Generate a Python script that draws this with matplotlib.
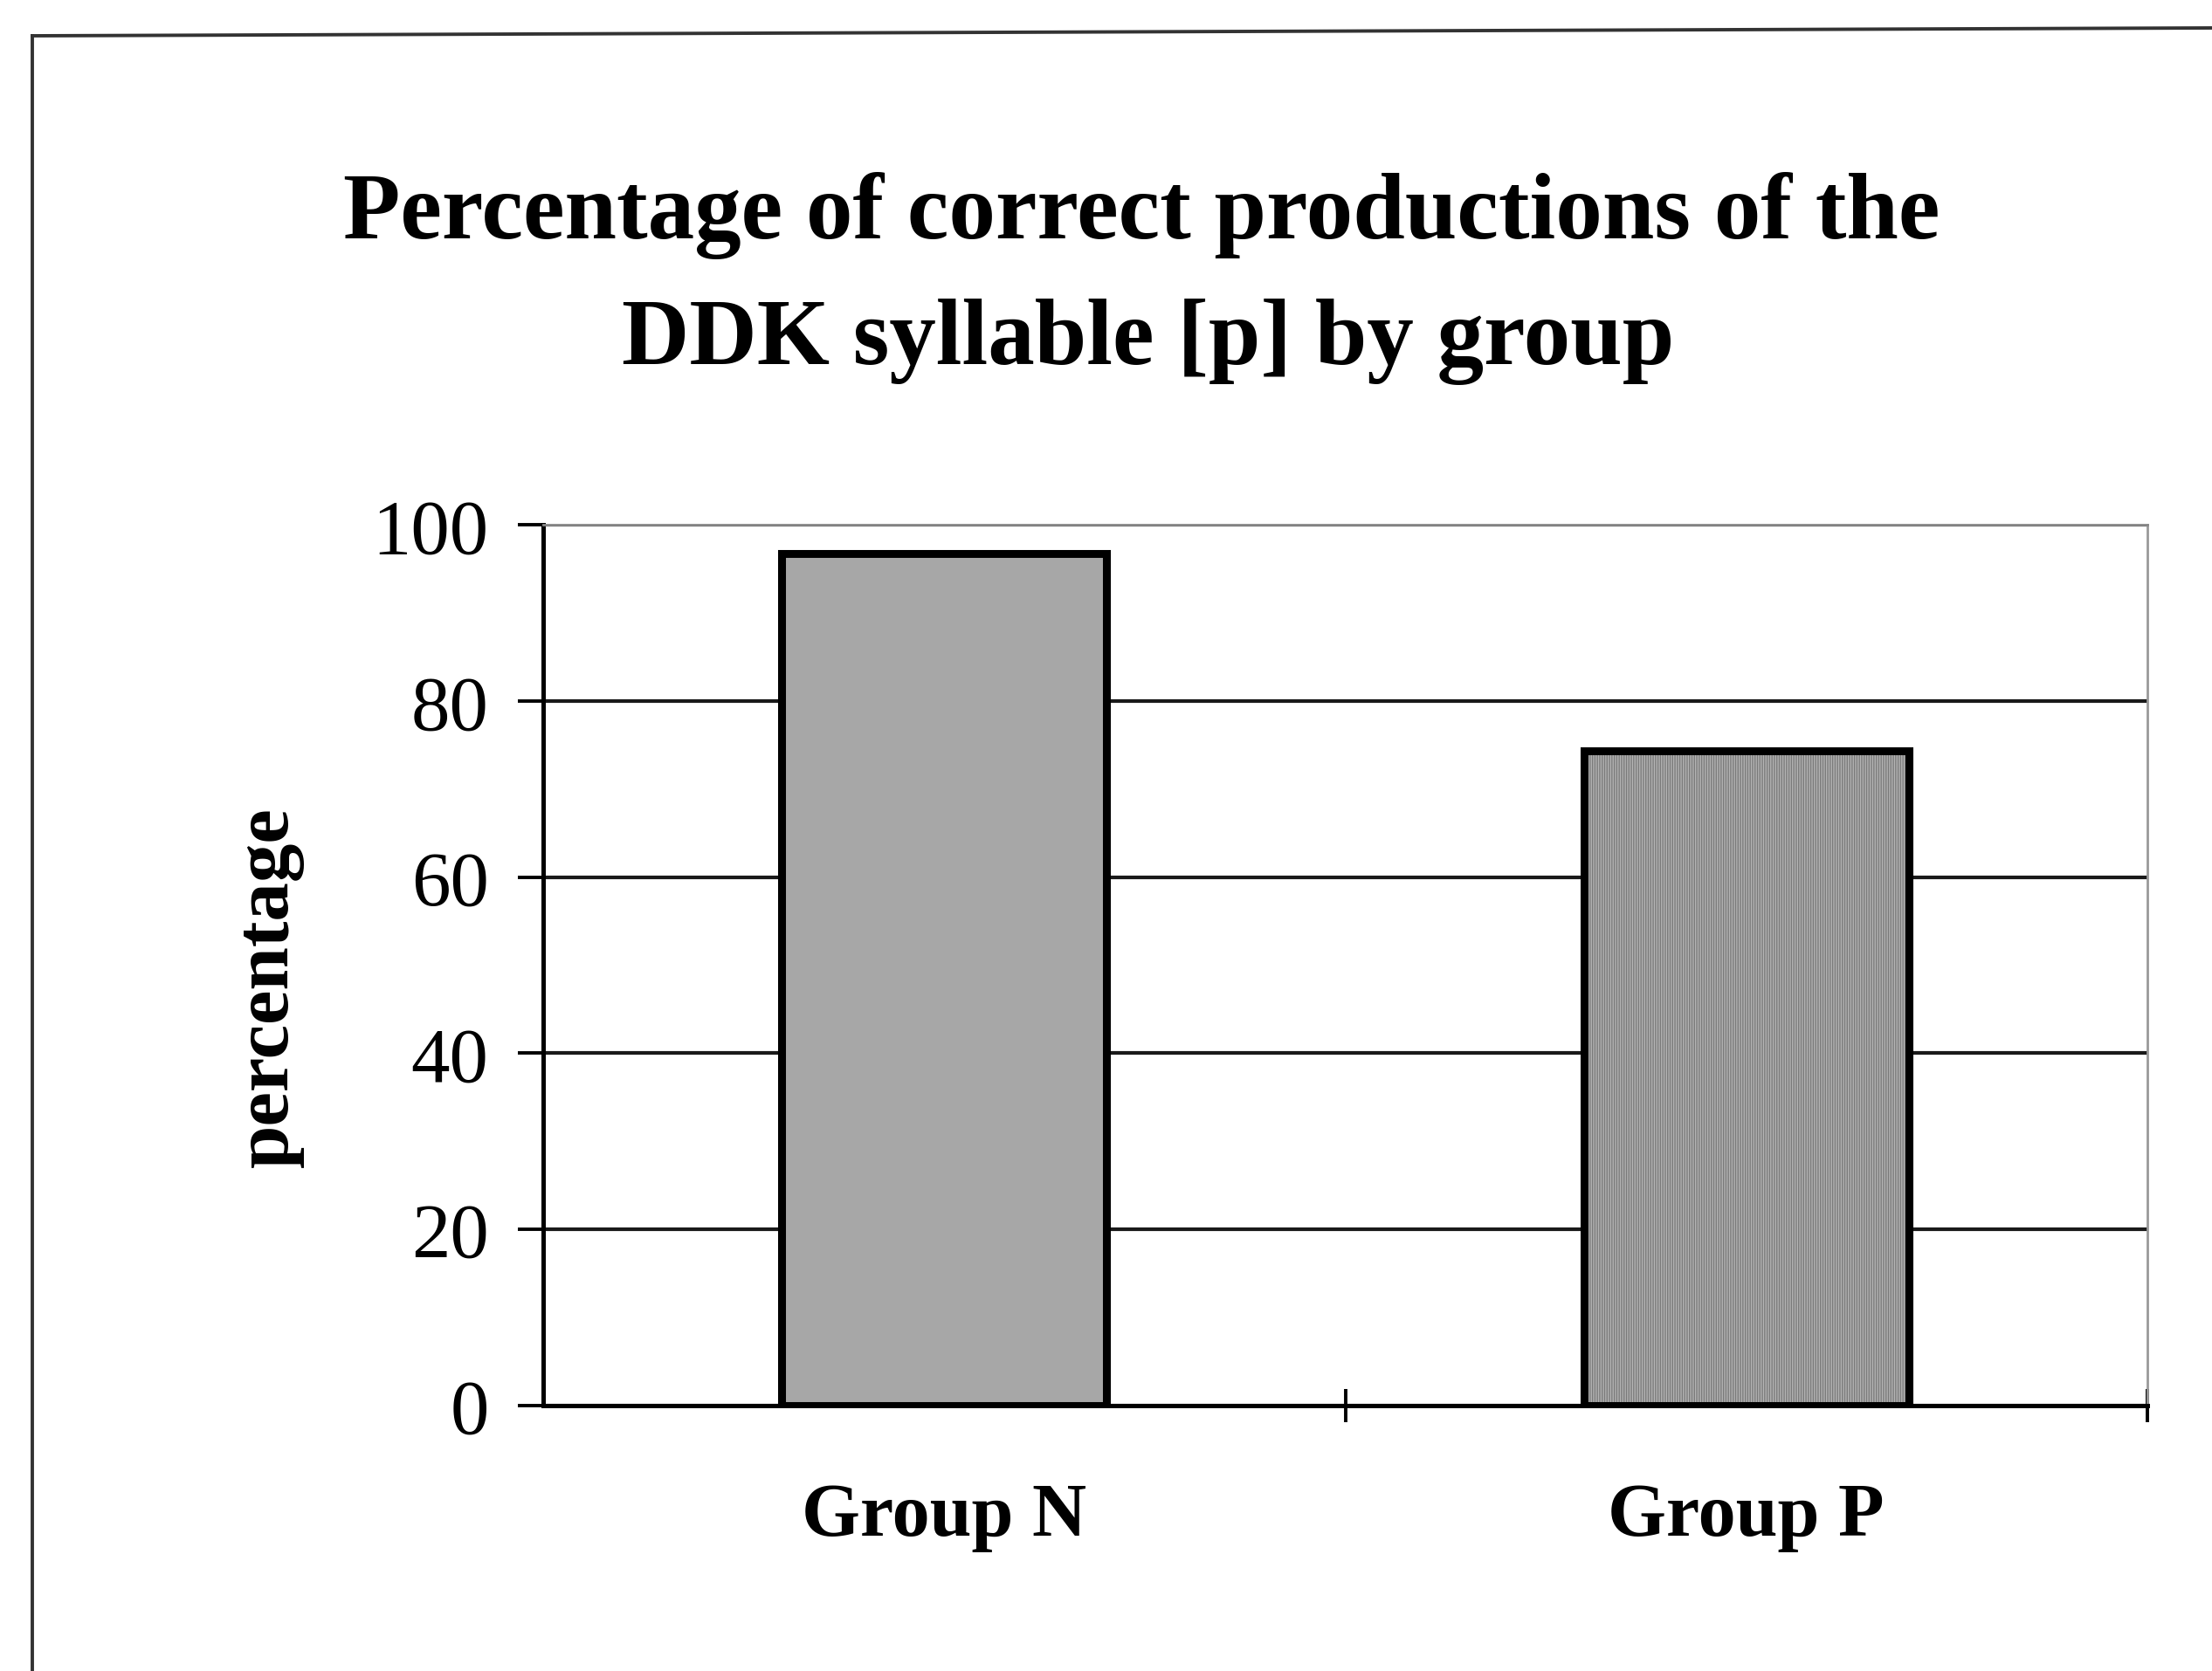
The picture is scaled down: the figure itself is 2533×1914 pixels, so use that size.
import matplotlib.pyplot as plt
from matplotlib.lines import Line2D

# data
groups = ["Group N", "Group P"]
percent = [96.8, 74.4]
yticks = [0, 20, 40, 60, 80, 100]
title_lines = ["Percentage of correct productions of the", "DDK syllable [p] by group"]

plt.rcParams['font.family'] = ['Liberation Serif', 'DejaVu Serif']

fig = plt.figure(figsize=(25.33, 19.15), dpi=100)
fig.patch.set_facecolor('white')

# outer chart frame (only left and top are visible in the scan, a little tilted)
fig.add_artist(Line2D([37 / 2533, 37 / 2533], [0, 1 - 42 / 1915], color='#333333', lw=2.8))
fig.add_artist(Line2D([37 / 2533, 1], [1 - 42 / 1915, 1 - 33 / 1915], color='#333333', lw=2.8))

ax = fig.add_axes([0.2456, 0.159, 0.7252, 0.5264])

x = [0, 1]
# bar N: plain gray fill
ax.bar(x[0], percent[0], width=0.405, color='#a7a7a7', edgecolor='black', linewidth=6.5, zorder=3)
# bar P: fine vertical pattern, then the black outline on top
ax.bar(x[1], percent[1], width=0.405, color='#b4b4b4', edgecolor='#7a7a7a', hatch='||||||',
       linewidth=0, zorder=3)
ax.bar(x[1], percent[1], width=0.405, color='none', edgecolor='black', linewidth=6.5, zorder=4)

ax.set_xlim(-0.5, 1.5)
ax.set_ylim(0, 100)
ax.set_yticks(yticks)
ax.set_yticklabels([str(v) for v in yticks], fontsize=64)
ax.tick_params(axis='y', direction='out', length=21, width=2.8, pad=24)

# x ticks: category boundaries, labels centred under bars
ax.set_xticks([0.5, 1.5])
ax.set_xticklabels([])
ax.set_xticks(x, minor=True)
ax.set_xticklabels(groups, minor=True, fontsize=62, fontweight='bold')
ax.tick_params(axis='x', which='major', direction='inout', length=28, width=2.8)
ax.tick_params(axis='x', which='minor', length=0, pad=64)

ax.grid(axis='y', color='#1a1a1a', linewidth=3.0, zorder=0)
ax.set_axisbelow(True)

ax.spines['left'].set_linewidth(3.6)
ax.spines['bottom'].set_linewidth(3.6)
ax.spines['top'].set_color('#888888')
ax.spines['top'].set_linewidth(2.0)
ax.spines['right'].set_color('#999999')
ax.spines['right'].set_linewidth(2.0)

fig.text(307 / 2533, 1 - 1131 / 1915, "percentage", rotation=90, ha='center', va='center',
         fontsize=64, fontweight='bold')

fig.text(1307 / 2533, 1 - 247 / 1915, title_lines[0], ha='center', va='center',
         fontsize=77, fontweight='bold')
fig.text(1315 / 2533, 1 - 392 / 1915, title_lines[1], ha='center', va='center',
         fontsize=77, fontweight='bold')

fig.savefig("out.png", dpi=100)
